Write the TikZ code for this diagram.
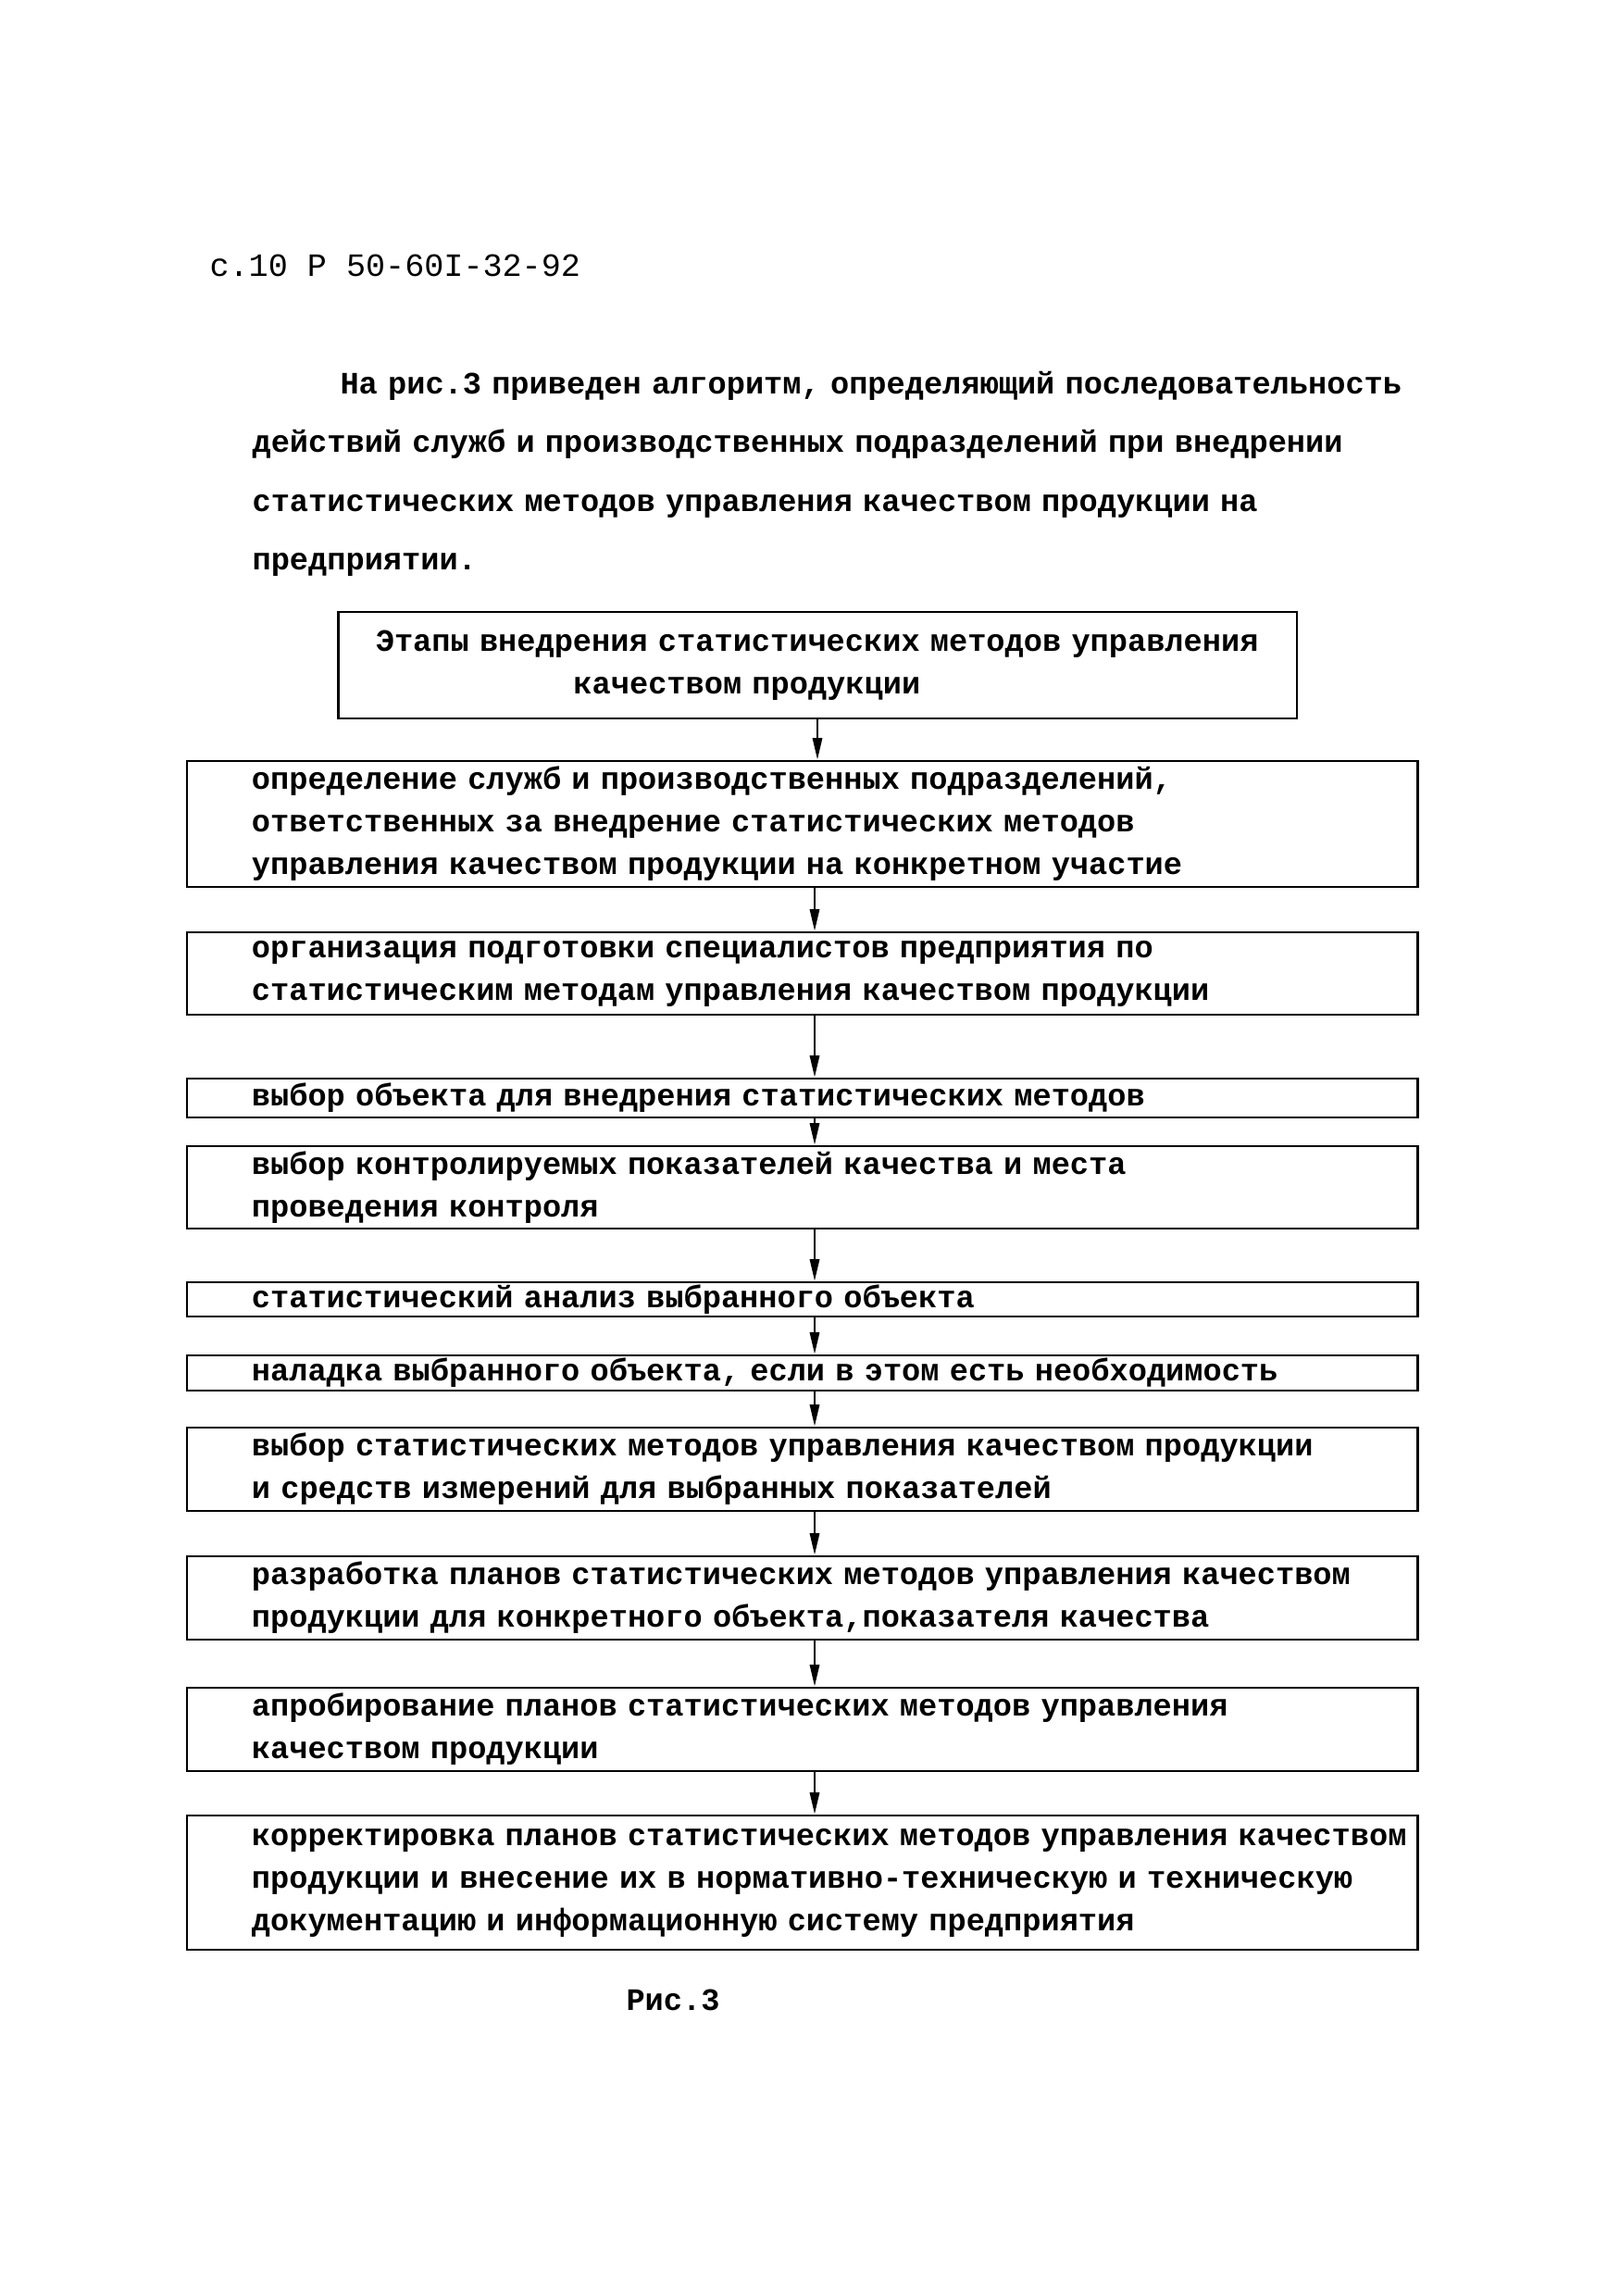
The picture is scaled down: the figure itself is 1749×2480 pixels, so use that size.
\documentclass[tikz,border=0pt]{standalone}
\usepackage{fontspec}
\setmainfont{Liberation Mono}
\usetikzlibrary{arrows.meta}

\begin{document}
\begin{tikzpicture}[x=0.012007cm, y=-0.012007cm,
  stagebox/.style={draw, line width=1pt, inner sep=0pt, text width=15.96cm, align=left,
    font=\bfseries\fontsize{11.5}{15.7}\selectfont, execute at begin node={\leftskip=0.84cm}},
  arr/.style={line width=0.8pt, -{Triangle[length=8pt,width=3.5pt]}}]
  \useasboundingbox (0,0) rectangle (1749,2480);
  \node[anchor=base west, inner sep=0pt, font=\fontsize{12}{14}\selectfont] (hdr) at (226,298) {с.10 Р 50-60I-32-92};
  \node[anchor=base west, inner sep=0pt, text width=16.2cm, align=left,
    font=\bfseries\fontsize{11.5}{21.7}\selectfont] (par) at (272,425)
    {\hspace*{1.14cm}На рис.3 приведен алгоритм, определяющий последовательность\\
     действий служб и производственных подразделений при внедрении\\
     статистических методов управления качеством продукции на\\
     предприятии.};
  \node[stagebox, text width=12.44cm, minimum height=1.381cm, execute at begin node={\leftskip=0.49cm}] (t) at (883,718.5)
    {Этапы внедрения статистических методов управления\\\hspace*{73pt}качеством продукции};
  \node[stagebox, minimum height=1.633cm] (b1) at (866.5,890)
    {определение служб и производственных подразделений,\\ответственных за внедрение статистических методов\\управления качеством продукции на конкретном участие};
  \node[stagebox, minimum height=1.069cm] (b2) at (866.5,1051.5)
    {организация подготовки специалистов предприятия по\\статистическим методам управления качеством продукции};
  \node[stagebox, minimum height=0.504cm] (b3) at (866.5,1186)
    {выбор объекта для внедрения статистических методов};
  \node[stagebox, minimum height=1.069cm] (b4) at (866.5,1282.5)
    {выбор контролируемых показателей качества и места\\проведения контроля};
  \node[stagebox, minimum height=0.444cm] (b5) at (866.5,1403.5)
    {статистический анализ выбранного объекта};
  \node[stagebox, minimum height=0.456cm] (b6) at (866.5,1483)
    {наладка выбранного объекта, если в этом есть необходимость};
  \node[stagebox, minimum height=1.081cm] (b7) at (866.5,1587)
    {выбор статистических методов управления качеством продукции\\и средств измерений для выбранных показателей};
  \node[stagebox, minimum height=1.081cm] (b8) at (866.5,1726)
    {разработка планов статистических методов управления качеством\\продукции для конкретного объекта,показателя качества};
  \node[stagebox, minimum height=1.081cm] (b9) at (866.5,1868)
    {апробирование планов статистических методов управления\\качеством продукции};
  \node[stagebox, minimum height=1.741cm] (b10) at (866.5,2033.5)
    {корректировка планов статистических методов управления качеством\\продукции и внесение их в нормативно-техническую и техническую\\документацию и информационную систему предприятия};
  \node[font=\bfseries\fontsize{11.5}{13}\selectfont] (cap) at (727,2160) {Рис.3};
  \coordinate (ax) at (880,0);
  \draw[arr] (t.south) -- (b1.north -| t.south); \draw[arr] (b1.south -| ax) -- (b2.north -| ax);
  \draw[arr] (b2.south -| ax) -- (b3.north -| ax); \draw[arr] (b3.south -| ax) -- (b4.north -| ax);
  \draw[arr] (b4.south -| ax) -- (b5.north -| ax); \draw[arr] (b5.south -| ax) -- (b6.north -| ax);
  \draw[arr] (b6.south -| ax) -- (b7.north -| ax); \draw[arr] (b7.south -| ax) -- (b8.north -| ax);
  \draw[arr] (b8.south -| ax) -- (b9.north -| ax); \draw[arr] (b9.south -| ax) -- (b10.north -| ax);
\end{tikzpicture}
\end{document}
